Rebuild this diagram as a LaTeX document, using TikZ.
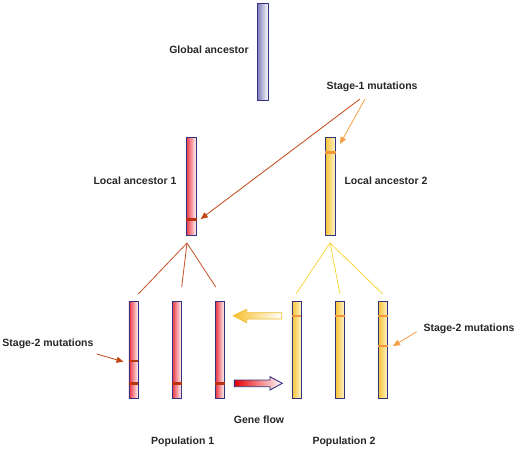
\documentclass[tikz,border=0pt]{standalone}
\usepackage{fontspec}
\setmainfont{Liberation Sans}
\usetikzlibrary{arrows.meta}
\definecolor{navy}{RGB}{50,50,130}
\definecolor{redL}{RGB}{236,48,62}
\definecolor{yelL}{RGB}{248,192,48}
\definecolor{yelR}{RGB}{255,246,205}
\definecolor{gloL}{RGB}{130,130,190}
\definecolor{mutred}{RGB}{190,50,20}
\definecolor{mutora}{RGB}{242,150,60}
\definecolor{fanred}{RGB}{200,80,40}
\definecolor{fanyel}{RGB}{250,215,60}
\definecolor{arrred}{RGB}{195,70,20}
\definecolor{arrora}{RGB}{245,160,70}
\definecolor{goldedge}{RGB}{238,190,50}
\begin{document}
\begin{tikzpicture}[x=1pt,y=-1pt,
  lbl/.style={font=\fontsize{10.5}{12}\selectfont\bfseries, text=black!85, inner sep=0pt},
  chrom/.style={draw=navy, line width=0.9pt, minimum width=#1, inner sep=0pt},
  redbar/.style={chrom=9.5pt, left color=redL, right color=white, minimum height=96.6pt},
  yelbar/.style={chrom=9.5pt, left color=yelL, right color=yelR, minimum height=96.6pt},
  mR/.style={draw=mutred, line width=2.8pt},
  mO/.style={draw=mutora, line width=2.8pt},
  fanR/.style={draw=fanred, line width=0.8pt},
  fanY/.style={draw=fanyel, line width=0.8pt},
  annR/.style={draw=arrred, line width=0.8pt, -{Triangle[length=7pt,width=6pt]}},
  annO/.style={draw=arrora, line width=0.8pt, -{Triangle[length=7pt,width=6pt]}}]
\useasboundingbox (0,0) rectangle (518,451);

% chromosomes
\node[chrom=10.5pt, minimum height=97pt, left color=gloL, right color=white] (ga) at (263,52) {};
\node[chrom=10.5pt, minimum height=98pt, left color=redL, right color=white] (la1) at (191.3,186) {};
\node[chrom=10.5pt, minimum height=98pt, left color=yelL, right color=yelR] (la2) at (330.3,186) {};

\node[redbar] (p1) at (133.7,350) {};
\node[redbar] (p2) at (176.8,350) {};
\node[redbar] (p3) at (220,350) {};
\node[yelbar] (q1) at (296.7,350) {};
\node[yelbar] (q2) at (339.8,350) {};
\node[yelbar] (q3) at (382.8,350) {};

% mutations
\draw[mR] ([xshift=0.45pt]la1.west |- 0,219.7) -- ([xshift=-0.45pt]la1.east |- 0,219.7);
\draw[mO] ([xshift=0.45pt]la2.west |- 0,152.3) -- ([xshift=-0.45pt]la2.east |- 0,152.3);
\foreach \b in {p1,p2,p3}{
  \draw[mR] ([xshift=0.45pt]\b.west |- 0,383.3) -- ([xshift=-0.45pt]\b.east |- 0,383.3);
}
\draw[mR] ([xshift=0.45pt]p1.west |- 0,361) -- ([xshift=-0.45pt]p1.east |- 0,361);
\foreach \b in {q1,q2,q3}{
  \draw[mO] ([xshift=0.45pt]\b.west |- 0,316) -- ([xshift=-0.45pt]\b.east |- 0,316);
}
\draw[mO] ([xshift=0.45pt]q3.west |- 0,346) -- ([xshift=-0.45pt]q3.east |- 0,346);

% fans
\coordinate (fr) at (187,243);
\coordinate (fr1) at (138.3,294);
\coordinate (fr2) at (181.7,287);
\coordinate (fr3) at (215.7,287);
\draw[fanR] (fr1) -- (fr) -- (fr3);
\draw[fanR] (fr) -- (fr2);
\coordinate (fy) at (330,243);
\coordinate (fy1) at (296,294);
\coordinate (fy2) at (340,294);
\coordinate (fy3) at (382.7,294);
\draw[fanY] (fy1) -- (fy) -- (fy3);
\draw[fanY] (fy) -- (fy2);

% gene flow arrows
\shade[left color=yelL, right color=white, draw=goldedge, line width=0.8pt]
  (233.3,315.7) -- (246.7,309.3) -- (246.7,312.7) -- (281.7,312.7) -- (281.7,319)
  -- (246.7,319) -- (246.7,322.7) -- cycle;
\shade[left color=red!90!black, right color=white, draw=navy, line width=0.9pt]
  (234.3,380) -- (270,380) -- (270,376.7) -- (282.3,383.3) -- (270,390)
  -- (270,386.7) -- (234.3,386.7) -- cycle;

% labels
\node[lbl] (tga) at (209,50) {Global ancestor};
\node[lbl] (ts1) at (372,87) {Stage-1 mutations};
\node[lbl] (tla1) at (135,181) {Local ancestor 1};
\node[lbl] (tla2) at (386,181) {Local ancestor 2};
\node[lbl] (ts2a) at (48,344) {Stage-2 mutations};
\node[lbl] (ts2b) at (469,329) {Stage-2 mutations};
\node[lbl] (tgf) at (259,420) {Gene flow};
\node[lbl] (tp1) at (182.7,442) {Population 1};
\node[lbl] (tp2) at (344,442) {Population 2};

% annotation arrows
\coordinate (s1a) at (360,99);
\coordinate (s1b) at (365,99);
\coordinate (s1ta) at (200.7,219);
\coordinate (s1tb) at (340,144);
\draw[annR] (s1a) -- (s1ta);
\draw[annO] (s1b) -- (s1tb);
\coordinate (s2a) at (96.7,354);
\coordinate (s2at) at (123.5,361.7);
\draw[annR] (s2a) -- (s2at);
\coordinate (s2b) at (416.7,331.7);
\coordinate (s2bt) at (393,346);
\draw[annO] (s2b) -- (s2bt);
\end{tikzpicture}
\end{document}
